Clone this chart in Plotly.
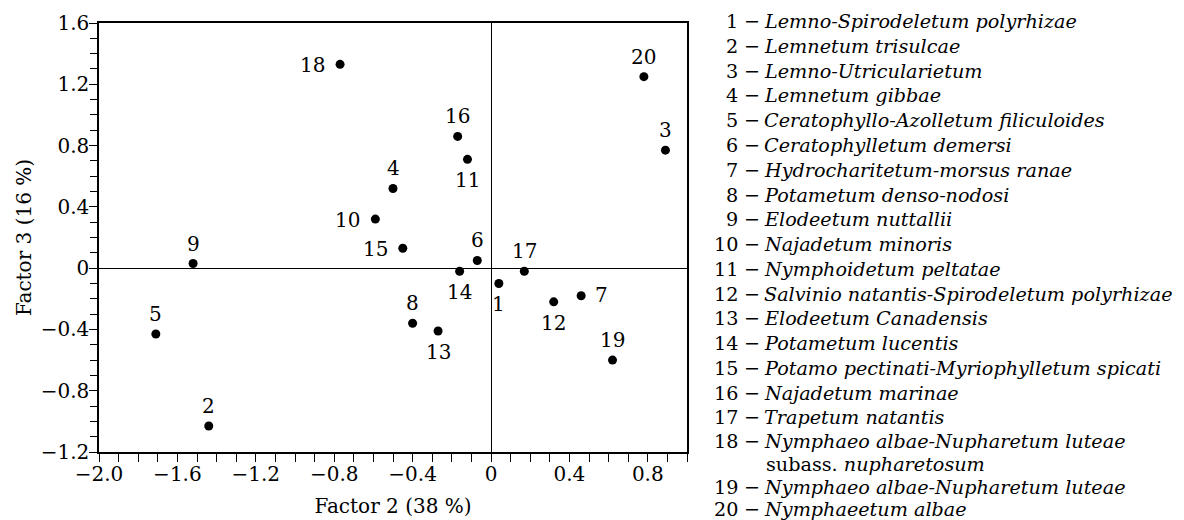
import plotly.graph_objects as go

# ---- data ----
ids = list(range(1, 21))
factor2 = [0.04, -1.44, 0.89, -0.50, -1.71, -0.07, 0.46, -0.40, -1.52, -0.59,
           -0.12, 0.32, -0.27, -0.16, -0.45, -0.17, 0.17, -0.77, 0.62, 0.78]
factor3 = [-0.10, -1.03, 0.77, 0.52, -0.43, 0.05, -0.18, -0.36, 0.03, 0.32,
           0.71, -0.22, -0.41, -0.02, 0.13, 0.86, -0.02, 1.33, -0.60, 1.25]
label_side = ["below", "above", "above", "above", "above", "above", "right", "above", "above", "left",
              "below", "below", "below", "below", "left", "above", "above", "left", "above", "above"]
names = [
    "Lemno-Spirodeletum polyrhizae",
    "Lemnetum trisulcae",
    "Lemno-Utricularietum",
    "Lemnetum gibbae",
    "Ceratophyllo-Azolletum filiculoides",
    "Ceratophylletum demersi",
    "Hydrocharitetum-morsus ranae",
    "Potametum denso-nodosi",
    "Elodeetum nuttallii",
    "Najadetum minoris",
    "Nymphoidetum peltatae",
    "Salvinio natantis-Spirodeletum polyrhizae",
    "Elodeetum Canadensis",
    "Potametum lucentis",
    "Potamo pectinati-Myriophylletum spicati",
    "Najadetum marinae",
    "Trapetum natantis",
    "Nymphaeo albae-Nupharetum luteae",
    "Nymphaeo albae-Nupharetum luteae",
    "Nymphaeetum albae",
]
subline_18 = ("subass.", "nupharetosum")
x_ticks = [-2.0, -1.6, -1.2, -0.8, -0.4, 0.0, 0.4, 0.8]
x_ticktext = ["\u22122.0", "\u22121.6", "\u22121.2", "\u22120.8", "\u22120.4", "0", "0.4", "0.8"]
y_ticks = [-1.2, -0.8, -0.4, 0.0, 0.4, 0.8, 1.2, 1.6]
y_ticktext = ["\u22121.2", "\u22120.8", "\u22120.4", "0", "0.4", "0.8", "1.2", "1.6"]
x_title = "Factor 2 (38 %)"
y_title = "Factor 3 (16 %)"

# ---- layout constants ----
W, H = 1184, 520
L, R, T, B = 99, 497, 23, 68
FONT = "DejaVu Serif"
FS = 20
LFS = 19.2
pw, ph = W - L - R, H - T - B


def px2paper(px, py):
    return (px - L) / pw, (H - B - py) / ph


fig = go.Figure()
fig.add_trace(go.Scatter(
    x=factor2, y=factor3, mode="markers",
    marker=dict(color="black", size=9),
    hoverinfo="text", text=[str(i) for i in ids], showlegend=False,
))

offsets = {
    "above": dict(xanchor="center", yanchor="middle", xshift=0, yshift=20),
    "below": dict(xanchor="center", yanchor="middle", xshift=0, yshift=-21),
    "left": dict(xanchor="right", yanchor="middle", xshift=-13, yshift=-1),
    "right": dict(xanchor="left", yanchor="middle", xshift=12, yshift=1),
}
annotations = []
for i, xv, yv, side in zip(ids, factor2, factor3, label_side):
    annotations.append(dict(x=xv, y=yv, xref="x", yref="y", text=str(i), showarrow=False,
                            font=dict(family=FONT, size=FS, color="black"), **offsets[side]))

# legend list on the right
row_y = [21.7 + k * 24.76 for k in range(17)] + [441.8 + k * 22.7 for k in range(4)]
num_right = 739
dash_left = 743
name_left = 763
leg_font = dict(family=FONT, size=LFS, color="black")
row = 0
for i, nm in zip(ids, names):
    yy = row_y[row]
    xa, ya = px2paper(num_right, yy)
    annotations.append(dict(x=xa, y=ya, xref="paper", yref="paper", text=str(i), showarrow=False,
                            xanchor="right", yanchor="middle", borderpad=0, font=leg_font))
    xa, ya = px2paper(dash_left, yy)
    annotations.append(dict(x=xa, y=ya, xref="paper", yref="paper", text="\u2212", showarrow=False,
                            xanchor="left", yanchor="middle", borderpad=0, font=leg_font))
    xa, ya = px2paper(name_left, yy)
    annotations.append(dict(x=xa, y=ya, xref="paper", yref="paper", text="<i>" + nm + "</i>",
                            showarrow=False, xanchor="left", yanchor="middle", borderpad=0,
                            font=leg_font))
    row += 1
    if i == 18:
        yy = row_y[row]
        xa, ya = px2paper(name_left + 2, yy)
        annotations.append(dict(x=xa, y=ya, xref="paper", yref="paper",
                                text=subline_18[0] + " <i>" + subline_18[1] + "</i>",
                                showarrow=False, xanchor="left", yanchor="middle", borderpad=0,
                                font=leg_font))
        row += 1

axis_common = dict(
    showgrid=False, showline=True, linecolor="black", linewidth=1.5, mirror=True,
    zeroline=True, zerolinecolor="black", zerolinewidth=1.3, automargin=False,
    ticks="outside", ticklen=8, tickwidth=1.3, tickcolor="black",
    tickfont=dict(family=FONT, size=FS, color="black"),
)
fig.update_layout(
    width=W, height=H, autosize=False,
    margin=dict(l=L, r=R, t=T, b=B, pad=0),
    paper_bgcolor="white", plot_bgcolor="white",
    font=dict(family=FONT, size=FS, color="black"),
    xaxis=dict(range=[-2.0, 1.0], tickmode="array", tickvals=x_ticks, ticktext=x_ticktext,
               ticklabelstandoff=-5,
               minor=dict(dtick=0.1, tick0=-2.0, ticks="outside", ticklen=8, tickwidth=1.3,
                          tickcolor="black", showgrid=False),
               title=dict(text=x_title, font=dict(family=FONT, size=FS, color="black"), standoff=14),
               **axis_common),
    yaxis=dict(range=[-1.2, 1.6], tickmode="array", tickvals=y_ticks, ticktext=y_ticktext,
               ticklabelstandoff=-4,
               minor=dict(dtick=0.1, tick0=-1.2, ticks="outside", ticklen=7, tickwidth=1.3,
                          tickcolor="black", showgrid=False),
               title=dict(text=y_title, font=dict(family=FONT, size=FS, color="black"), standoff=4),
               **axis_common),
    annotations=annotations,
)
fig.write_html("out.html", config={"displayModeBar": False},
               post_script="document.body.style.margin='0';")
